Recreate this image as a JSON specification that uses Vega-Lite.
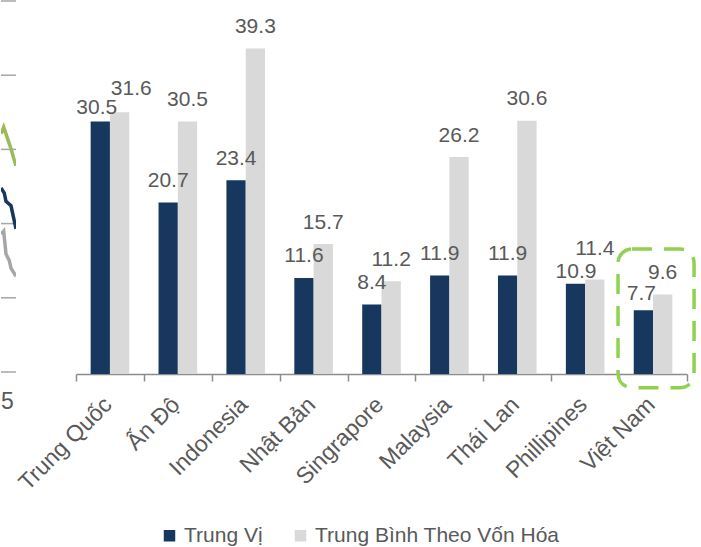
{
  "$schema": "https://vega.github.io/schema/vega-lite/v6.json",
  "padding": 0,
  "autosize": {"type": "pad"},
  "bounds": "flush",
  "spacing": 60,
  "config": {"view": {"stroke": null}, "font": "Liberation Sans"},
  "datasets": {
    "bars": [
      {"country": "Trung Quốc", "series": "Trung Vị", "value": 30.5},
      {"country": "Trung Quốc", "series": "Trung Bình Theo Vốn Hóa", "value": 31.6},
      {"country": "Ấn Độ", "series": "Trung Vị", "value": 20.7},
      {"country": "Ấn Độ", "series": "Trung Bình Theo Vốn Hóa", "value": 30.5},
      {"country": "Indonesia", "series": "Trung Vị", "value": 23.4},
      {"country": "Indonesia", "series": "Trung Bình Theo Vốn Hóa", "value": 39.3},
      {"country": "Nhật Bản", "series": "Trung Vị", "value": 11.6},
      {"country": "Nhật Bản", "series": "Trung Bình Theo Vốn Hóa", "value": 15.7},
      {"country": "Singrapore", "series": "Trung Vị", "value": 8.4},
      {"country": "Singrapore", "series": "Trung Bình Theo Vốn Hóa", "value": 11.2},
      {"country": "Malaysia", "series": "Trung Vị", "value": 11.9},
      {"country": "Malaysia", "series": "Trung Bình Theo Vốn Hóa", "value": 26.2},
      {"country": "Thái Lan", "series": "Trung Vị", "value": 11.9},
      {"country": "Thái Lan", "series": "Trung Bình Theo Vốn Hóa", "value": 30.6},
      {"country": "Phillipines", "series": "Trung Vị", "value": 10.9},
      {"country": "Phillipines", "series": "Trung Bình Theo Vốn Hóa", "value": 11.4},
      {"country": "Việt Nam", "series": "Trung Vị", "value": 7.7},
      {"country": "Việt Nam", "series": "Trung Bình Theo Vốn Hóa", "value": 9.6}
    ],
    "frag": [
      {"s": "A", "t": 0, "v": 3.21},
      {"s": "A", "t": 2.7, "v": 3.3},
      {"s": "A", "t": 10, "v": 3.01},
      {"s": "A", "t": 12.7, "v": 2.88},
      {"s": "A", "t": 15, "v": 2.78},
      {"s": "B", "t": 0, "v": 2.48},
      {"s": "B", "t": 3.3, "v": 2.41},
      {"s": "B", "t": 5, "v": 2.3},
      {"s": "B", "t": 10, "v": 2.24},
      {"s": "B", "t": 15, "v": 1.93},
      {"s": "C", "t": 0, "v": 1.86},
      {"s": "C", "t": 2.7, "v": 1.9},
      {"s": "C", "t": 5, "v": 1.59},
      {"s": "C", "t": 8.3, "v": 1.5},
      {"s": "C", "t": 10, "v": 1.4},
      {"s": "C", "t": 15, "v": 1.29}
    ],
    "grid": [{"g": 0}, {"g": 1}, {"g": 2}, {"g": 3}, {"g": 4}, {"g": 5}],
    "box": [
      {"country": "Việt Nam", "lo": -1.65, "hi": 15.1}
    ]
  },
  "resolve": {"scale": {"color": "independent"}, "legend": {"color": "independent"}},
  "hconcat": [
    {
      "width": 15,
      "height": 371,
      "layer": [
        {
          "data": {"name": "grid"},
          "mark": {"type": "rule", "color": "#A6A6A6", "strokeWidth": 1.5},
          "encoding": {
            "y": {"field": "g", "type": "quantitative", "scale": {"domain": [0, 5], "nice": false}, "axis": null},
            "x": {"datum": 0, "type": "quantitative", "scale": {"domain": [0, 15], "nice": false}, "axis": null},
            "x2": {"datum": 15}
          }
        },
        {
          "data": {"name": "frag"},
          "mark": {"type": "line", "strokeWidth": 3.5, "clip": true},
          "encoding": {
            "x": {"field": "t", "type": "quantitative"},
            "y": {"field": "v", "type": "quantitative"},
            "color": {"field": "s", "type": "nominal", "scale": {"domain": ["A", "B", "C"], "range": ["#9BBB59", "#17375E", "#A6A6A6"]}, "legend": null}
          }
        },
        {
          "data": {"values": [{}]},
          "mark": {"type": "text", "align": "left", "baseline": "alphabetic", "dy": 37, "fontSize": 23, "color": "#595959"},
          "encoding": {
            "x": {"datum": 0, "type": "quantitative"},
            "y": {"datum": 0, "type": "quantitative"},
            "text": {"value": "5"}
          }
        }
      ]
    },
    {
      "width": 611,
      "height": 373,
      "layer": [
        {
          "data": {"name": "bars"},
          "mark": {"type": "bar"},
          "encoding": {
            "x": {"field": "country", "type": "nominal", "sort": null, "scale": {"paddingInner": 0, "paddingOuter": 0},
              "axis": {"title": null, "labelAngle": -45, "labelFontSize": 23, "labelColor": "#595959", "labelPadding": 12, "labelOffset": -10, "tickBand": "extent", "tickSize": 7, "tickColor": "#8C8C8C", "tickWidth": 1.5, "domainColor": "#8C8C8C", "domainWidth": 1.5, "labelOverlap": false, "labelLimit": 300}},
            "xOffset": {"field": "series", "type": "nominal", "sort": ["Trung Vị", "Trung Bình Theo Vốn Hóa"], "scale": {"paddingInner": 0, "paddingOuter": 0.759}},
            "y": {"field": "value", "type": "quantitative", "scale": {"domain": [0, 45.05], "nice": false}, "axis": null},
            "color": {"field": "series", "type": "nominal", "sort": ["Trung Vị", "Trung Bình Theo Vốn Hóa"],
              "scale": {"domain": ["Trung Vị", "Trung Bình Theo Vốn Hóa"], "range": ["#17375E", "#D9D9D9"]},
              "legend": {"title": null, "orient": "none", "legendX": 83, "legendY": 524, "direction": "horizontal", "symbolType": "square", "symbolSize": 132, "symbolStrokeWidth": 0, "labelFontSize": 21, "labelColor": "#595959", "labelLimit": 500, "columnPadding": 27, "labelOffset": 4, "padding": 0}}
          }
        },
        {
          "data": {"name": "bars"},
          "transform": [{"filter": "!((datum.country == 'Trung Quốc') || (datum.country == 'Phillipines') || (datum.country == 'Việt Nam' && datum.series == 'Trung Vị'))"}],
          "mark": {"type": "text", "baseline": "alphabetic", "dy": -15.5, "fontSize": 21, "color": "#595959"},
          "encoding": {
            "x": {"field": "country", "type": "nominal", "sort": null},
            "xOffset": {"field": "series", "type": "nominal", "sort": ["Trung Vị", "Trung Bình Theo Vốn Hóa"]},
            "y": {"field": "value", "type": "quantitative"},
            "text": {"field": "value", "type": "quantitative", "format": ".1f"}
          }
        },
        {
          "data": {"name": "bars"},
          "transform": [{"filter": "datum.country == 'Trung Quốc' && datum.series == 'Trung Vị'"}],
          "mark": {"type": "text", "baseline": "alphabetic", "dx": -3.5, "dy": -7.4, "fontSize": 21, "color": "#595959"},
          "encoding": {
            "x": {"field": "country", "type": "nominal", "sort": null},
            "xOffset": {"field": "series", "type": "nominal", "sort": ["Trung Vị", "Trung Bình Theo Vốn Hóa"]},
            "y": {"field": "value", "type": "quantitative"},
            "text": {"field": "value", "type": "quantitative", "format": ".1f"}
          }
        },
        {
          "data": {"name": "bars"},
          "transform": [{"filter": "datum.country == 'Trung Quốc' && datum.series != 'Trung Vị'"}],
          "mark": {"type": "text", "baseline": "alphabetic", "dx": 11.7, "dy": -17.7, "fontSize": 21, "color": "#595959"},
          "encoding": {
            "x": {"field": "country", "type": "nominal", "sort": null},
            "xOffset": {"field": "series", "type": "nominal", "sort": ["Trung Vị", "Trung Bình Theo Vốn Hóa"]},
            "y": {"field": "value", "type": "quantitative"},
            "text": {"field": "value", "type": "quantitative", "format": ".1f"}
          }
        },
        {
          "data": {"name": "bars"},
          "transform": [{"filter": "datum.country == 'Phillipines' && datum.series == 'Trung Vị'"}],
          "mark": {"type": "text", "baseline": "alphabetic", "dx": 0.5, "dy": -6, "fontSize": 21, "color": "#595959"},
          "encoding": {
            "x": {"field": "country", "type": "nominal", "sort": null},
            "xOffset": {"field": "series", "type": "nominal", "sort": ["Trung Vị", "Trung Bình Theo Vốn Hóa"]},
            "y": {"field": "value", "type": "quantitative"},
            "text": {"field": "value", "type": "quantitative", "format": ".1f"}
          }
        },
        {
          "data": {"name": "bars"},
          "transform": [{"filter": "datum.country == 'Phillipines' && datum.series != 'Trung Vị'"}],
          "mark": {"type": "text", "baseline": "alphabetic", "dy": -24.6, "fontSize": 21, "color": "#595959"},
          "encoding": {
            "x": {"field": "country", "type": "nominal", "sort": null},
            "xOffset": {"field": "series", "type": "nominal", "sort": ["Trung Vị", "Trung Bình Theo Vốn Hóa"]},
            "y": {"field": "value", "type": "quantitative"},
            "text": {"field": "value", "type": "quantitative", "format": ".1f"}
          }
        },
        {
          "data": {"name": "bars"},
          "transform": [{"filter": "datum.country == 'Việt Nam' && datum.series == 'Trung Vị'"}],
          "mark": {"type": "text", "baseline": "alphabetic", "dx": -2, "dy": -10, "fontSize": 21, "color": "#595959"},
          "encoding": {
            "x": {"field": "country", "type": "nominal", "sort": null},
            "xOffset": {"field": "series", "type": "nominal", "sort": ["Trung Vị", "Trung Bình Theo Vốn Hóa"]},
            "y": {"field": "value", "type": "quantitative"},
            "text": {"field": "value", "type": "quantitative", "format": ".1f"}
          }
        },
        {
          "data": {"name": "box"},
          "mark": {"type": "rect", "filled": false, "stroke": "#92D050", "strokeWidth": 3.5, "strokeDash": [20, 12], "cornerRadius": 14, "width": {"band": 1.12}, "xOffset": 3},
          "encoding": {
            "x": {"field": "country", "type": "nominal", "sort": null},
            "y": {"field": "hi", "type": "quantitative"},
            "y2": {"field": "lo"}
          }
        }
      ]
    }
  ]
}
